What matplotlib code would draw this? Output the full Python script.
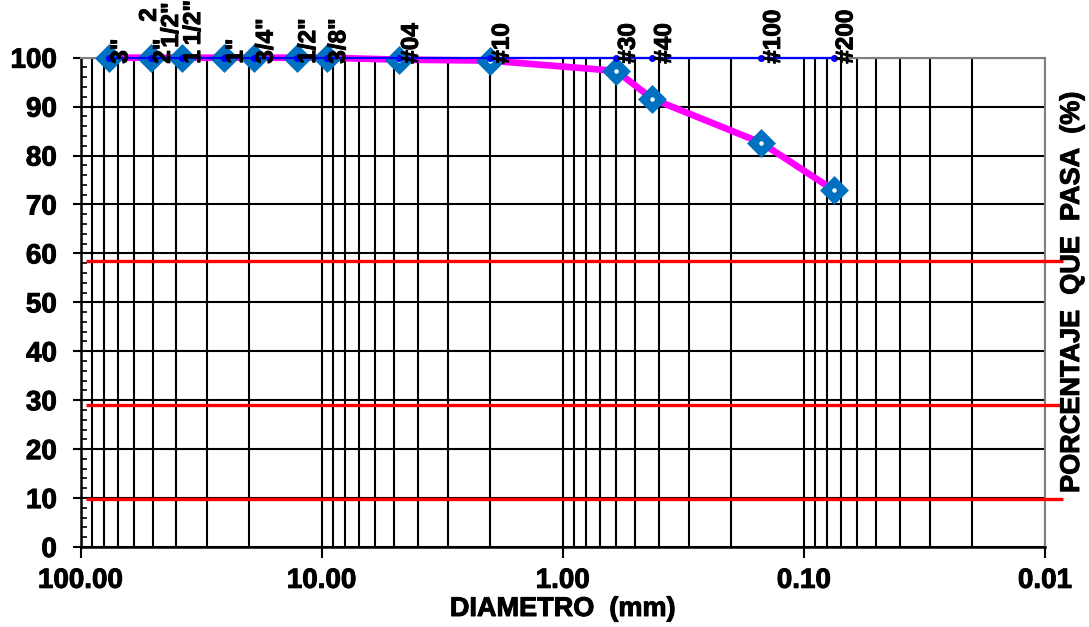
import matplotlib
matplotlib.use("Agg")
import matplotlib.pyplot as plt
import matplotlib.patheffects as pe
from matplotlib.ticker import FixedLocator, FixedFormatter, NullFormatter

plt.rcParams['font.family'] = ['Liberation Sans', 'DejaVu Sans']
plt.rcParams['font.weight'] = 'bold'

# ---- data ----
sieve_labels = ['3"', '2"', '1\u20091/2"', '1"', '3/4"', '1/2"', '3/8"',
                '#04', '#10', '#30', '#40', '#100', '#200']
sieve_mm = [76.2, 50.8, 38.1, 25.4, 19.05, 12.7, 9.525,
            4.76, 2.0, 0.6, 0.425, 0.15, 0.075]
percent_passing = [100, 100, 100, 100, 100, 100, 100,
                   99.6, 99.4, 97.3, 91.6, 82.6, 72.9]
reference_line = [100] * len(sieve_mm)
extra_labels = ['2', '1/2"']
red_levels = [58.5, 29.0, 9.8]
red_extent = [94.9, 0.0084]
x_ticks = [100, 10, 1, 0.1, 0.01]
x_ticklabels = ['100.00', '10.00', '1.00', '0.10', '0.01']
y_ticks = list(range(0, 101, 10))

W, H = 1089, 627
fig = plt.figure(figsize=(W / 100, H / 100), dpi=100)
ax = fig.add_axes([80.5 / W, 1 - 547 / H, (1045 - 80.5) / W, (547 - 57.7) / H])

ax.set_xscale('log')
ax.set_xlim(100, 0.01)
ax.set_ylim(0, 100)

thick = [pe.withStroke(linewidth=0.7, foreground='black')]

# grid
ax.xaxis.set_major_locator(FixedLocator(x_ticks))
ax.xaxis.set_major_formatter(FixedFormatter(x_ticklabels))
minor = [m * 10.0 ** e for e in range(-2, 2) for m in range(2, 10)]
ax.xaxis.set_minor_locator(FixedLocator(minor))
ax.xaxis.set_minor_formatter(NullFormatter())
ax.yaxis.set_major_locator(FixedLocator(y_ticks))
ax.yaxis.set_minor_locator(FixedLocator(list(range(0, 101, 2))))
ax.grid(True, which='both', axis='x', color='black', linewidth=1.5, zorder=1)
ax.grid(True, which='major', axis='y', color='black', linewidth=1.5, zorder=1)
ax.set_axisbelow(True)

ax.tick_params(axis='x', which='major', direction='out', length=8, width=1.5,
               labelsize=20, pad=7, color='black')
ax.tick_params(axis='x', which='minor', length=0)
ax.tick_params(axis='y', which='major', direction='out', length=6, width=1.5,
               labelsize=20, pad=11)
ax.tick_params(axis='y', which='minor', direction='in', length=4, width=1.2)
for lab in ax.get_xticklabels() + ax.get_yticklabels():
    lab.set_fontweight('bold')
    lab.set_path_effects(thick)

for s in ['left', 'bottom']:
    ax.spines[s].set_color('black')
    ax.spines[s].set_linewidth(1.8)
for s in ['top', 'right']:
    ax.spines[s].set_color('#808080')
    ax.spines[s].set_linewidth(1.5)

# red reference lines
for lvl in red_levels:
    ax.plot(red_extent, [lvl, lvl], color='#FF0000', linewidth=2.4,
            clip_on=False, zorder=3, solid_capstyle='butt')

# grading curve
ax.plot(sieve_mm, percent_passing, color='#FF00FF', linewidth=4.8, zorder=4,
        solid_joinstyle='round', clip_on=False)
ax.plot(sieve_mm, percent_passing, linestyle='none', marker='D', markersize=12.5,
        markerfacecolor='#0070C0', markeredgecolor='#0070C0', markeredgewidth=2.5,
        zorder=5, clip_on=False)
ax.plot(sieve_mm, percent_passing, linestyle='none', marker='o', markersize=2.2,
        markerfacecolor='white', markeredgecolor='white', zorder=6, clip_on=False)

# sieve reference line at 100 %
ax.plot(sieve_mm, reference_line, color='#0000FF', linewidth=1.6, marker='o',
        markersize=4, zorder=7, clip_on=False)

# sieve labels
px = 0.72
for d, lab in zip(sieve_mm, sieve_labels):
    t = ax.annotate(lab, xy=(d, 100), xytext=(12 * px, -6 * px),
                    textcoords='offset points', rotation=90, ha='center',
                    va='bottom', fontsize=17.5, fontweight='bold', zorder=8,
                    annotation_clip=False)
    t.set_path_effects(thick)
t = ax.annotate(extra_labels[0], xy=(sieve_mm[1], 100), xytext=(-2 * px, 36 * px),
                textcoords='offset points', rotation=90, ha='center', va='bottom',
                fontsize=17.5, fontweight='bold', annotation_clip=False)
t.set_path_effects(thick)
t = ax.annotate(extra_labels[1], xy=(sieve_mm[1], 100), xytext=(20 * px, 10 * px),
                textcoords='offset points', rotation=90, ha='center', va='bottom',
                fontsize=17.5, fontweight='bold', annotation_clip=False)
t.set_path_effects(thick)

# axis titles
t = fig.text(563 / W, 1 - 609 / H, 'DIAMETRO  (mm)', ha='center', va='center',
             fontsize=19.5, fontweight='bold')
t.set_path_effects(thick)
t = fig.text(1072 / W, 1 - 292 / H, 'PORCENTAJE  QUE  PASA  (%)', ha='center',
             va='center', rotation=90, fontsize=19.5, fontweight='bold')
t.set_path_effects(thick)

fig.savefig('out.png', dpi=100)
